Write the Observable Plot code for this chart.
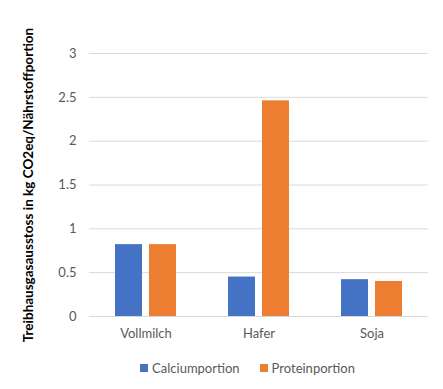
<!DOCTYPE html>
<html>
<head>
<meta charset="utf-8">
<script src="https://cdn.jsdelivr.net/npm/d3@7"></script>
<script src="https://cdn.jsdelivr.net/npm/@observablehq/plot@0.6"></script>
<style>
  body { margin: 0; background: #fff; font-family: Lato, "Open Sans", sans-serif; }
  #chart svg { display: block; }
  #chart g[aria-label="y-axis label"] text { font-weight: bold; fill: #000; font-size: 13.5px; }
  .legend { display: flex; justify-content: center; gap: 20px; font-size: 13px; color: #595959; margin-left: 52px; margin-top: 8px; }
  .legend span.sw { display: inline-block; width: 8px; height: 8px; margin-right: 4px; }
  .legend div { display: flex; align-items: center; }
</style>
</head>
<body>
<div id="chart"></div>
<script>
const categories = ["Vollmilch", "Hafer", "Soja"];
const series = ["Calciumportion", "Proteinportion"];
const calcium = [0.82, 0.45, 0.42];
const protein = [0.82, 2.46, 0.40];
const yTicks = [0, 0.5, 1, 1.5, 2, 2.5, 3];
const colors = ["#4472C4", "#ED7D31"];

const data = [];
categories.forEach((c, i) => {
  data.push({cat: c, series: series[0], value: calcium[i]});
  data.push({cat: c, series: series[1], value: protein[i]});
});

const plot = Plot.plot({
  width: 443,
  height: 352,
  marginLeft: 88,
  marginRight: 15,
  marginTop: 53,
  marginBottom: 36,
  style: {fontFamily: "Lato, 'Open Sans', sans-serif", fontSize: "13px", color: "#595959"},
  fx: {domain: categories, padding: 0, label: null},
  x: {domain: series, paddingInner: 0.2, paddingOuter: 0.76, axis: null},
  y: {domain: [0, 3], ticks: yTicks},
  color: {domain: series, range: colors},
  marks: [
    Plot.ruleY(yTicks, {stroke: "#D9D9D9", strokeWidth: 1}),
    Plot.barY(data, {fx: "cat", x: "series", y: "value", fill: "series"}),
    Plot.axisFx({anchor: "bottom", tickSize: 0, tickPadding: 12, fontSize: 13, label: null}),
    Plot.axisY({ticks: yTicks, tickSize: 0, tickPadding: 13, tickFormat: d => String(d), fontSize: 13,
      label: "Treibhausgasausstoss in kg CO2eq/Nährstoffportion", labelAnchor: "center", labelOffset: 66, labelArrow: "none"})
  ]
});
document.getElementById("chart").appendChild(plot);

const legend = document.createElement("div");
legend.className = "legend";
series.forEach((s, i) => {
  const item = document.createElement("div");
  const sw = document.createElement("span");
  sw.className = "sw";
  sw.style.background = colors[i];
  item.appendChild(sw);
  item.appendChild(document.createTextNode(s));
  legend.appendChild(item);
});
document.body.appendChild(legend);
</script>
</body>
</html>
